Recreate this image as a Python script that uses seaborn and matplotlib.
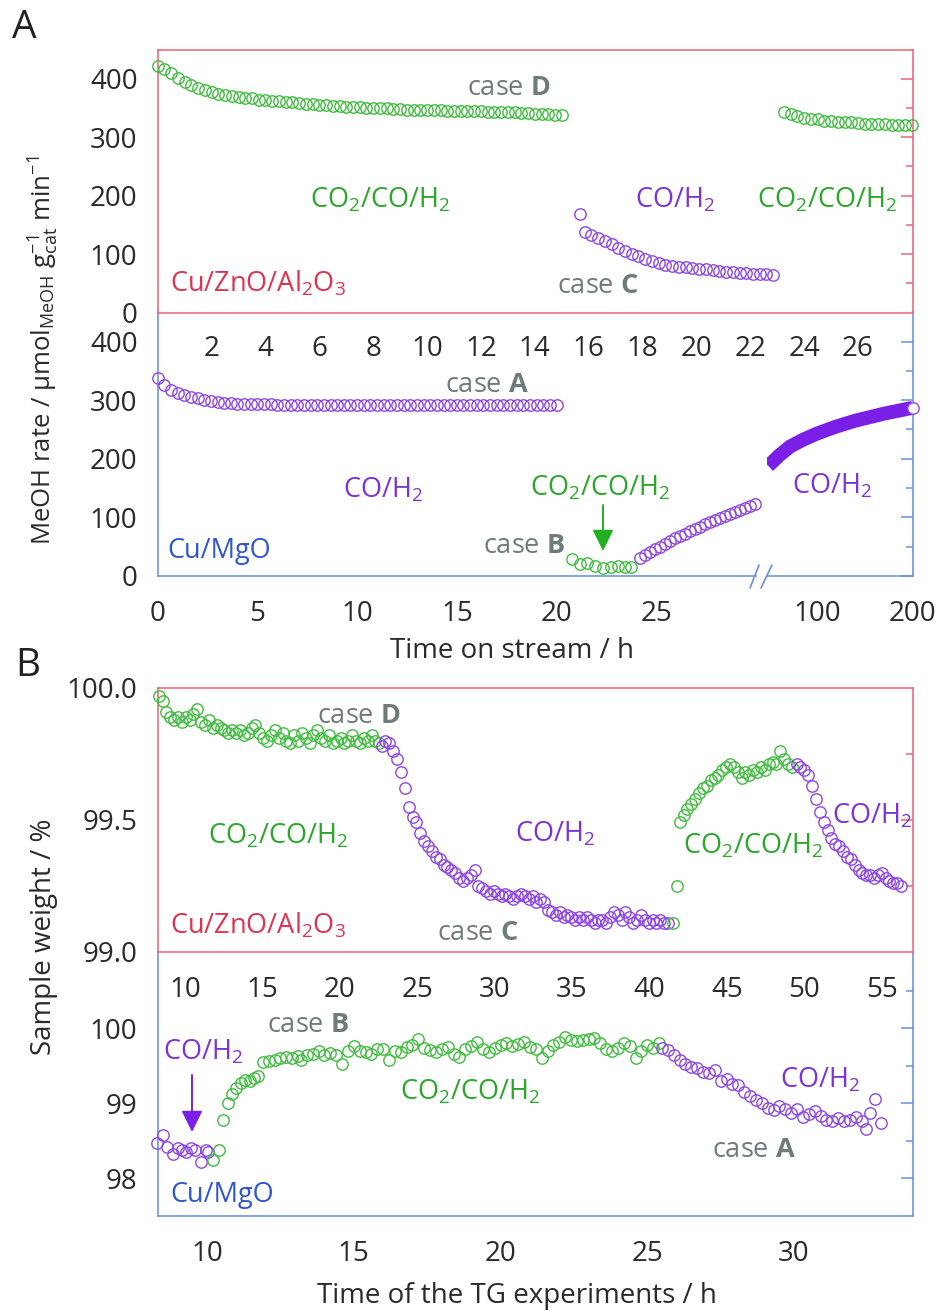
import numpy as np
import matplotlib
matplotlib.use("Agg")
import matplotlib.pyplot as plt
import seaborn as sns
from matplotlib.lines import Line2D
from matplotlib.ticker import FixedLocator, FormatStrFormatter

# ---------------- DATA ----------------
# Panel A, Cu/ZnO/Al2O3 (top): MeOH rate vs time on stream (h)
a_top_green1_t = (0.0, 15.0)
a_top_green1 = [421, 416, 409, 401, 394, 389, 384, 380, 377, 374,
                372, 370, 368, 367, 366, 364, 363, 362, 361, 360,
                359, 358, 357, 356, 355, 354, 353, 353, 352, 351,
                351, 350, 350, 349, 349, 348, 348, 347, 347, 347,
                346, 346, 346, 345, 345, 345, 344, 344, 344, 343,
                343, 343, 342, 342, 341, 341, 340, 340, 339, 338,
                337]
a_top_purple_t = (15.85, 22.85)
a_top_purple_first = (15.68, 169)
a_top_purple = [138, 133, 128, 122, 117, 111, 105, 100, 96, 92,
                88, 85, 82, 80, 78, 77, 76, 75, 74, 72,
                71, 70, 69, 68, 67, 66, 66, 65, 64]
a_top_green2_t = (23.25, 28.0)
a_top_green2 = [343, 339, 336, 333, 331, 330, 328, 327, 326, 325,
                325, 324, 323, 323, 322, 322, 321, 321, 320, 320]

# Panel A, Cu/MgO (bottom)
a_bot_caseA_t = (0.0, 20.0)
a_bot_caseA = [337, 326, 318, 313, 309, 306, 303, 301, 299, 297,
               296, 295, 294, 294, 293, 293, 293, 293, 292, 292,
               292, 292, 292, 292, 291, 291, 291, 291, 291, 291,
               291, 291, 291, 291, 291, 291, 291, 291, 291, 291,
               291, 291, 291, 291, 291, 291, 291, 291, 291, 291,
               291, 291, 292, 292, 292, 292, 292, 292, 292, 292,
               292]
a_bot_caseB_t = [20.75, 21.15, 21.55, 21.95, 22.35, 22.75, 23.1, 23.45, 23.75]
a_bot_caseB = [29, 21, 22, 17, 13, 16, 17, 16, 16]
a_bot_rise_t = (24.2, 29.95)
a_bot_rise = [30, 36, 41, 46, 50, 55, 60, 64, 68, 72, 76, 80,
              84, 88, 92, 95, 99, 102, 106, 109, 113, 116, 119, 122]
a_bot_long_t = [49, 55, 60, 66, 72, 79, 86, 93, 100, 110, 120, 130,
                140, 155, 170, 185, 200]
a_bot_long = [188, 197, 205, 213, 221, 227, 233, 238, 243, 249, 255, 260,
              265, 271, 277, 282, 287]

# Panel B, Cu/ZnO/Al2O3 (top): sample weight (%) vs TG time (h)
b_top_green1_t = (8.3, 22.55)
b_top_green1 = [99.97, 99.95, 99.91, 99.89, 99.88, 99.89, 99.87, 99.89, 99.88, 99.90,
                99.92, 99.87, 99.86, 99.88, 99.85, 99.86, 99.85, 99.84, 99.83, 99.84,
                99.83, 99.84, 99.82, 99.83, 99.85, 99.86, 99.83, 99.81, 99.80, 99.82,
                99.84, 99.81, 99.83, 99.80, 99.79, 99.82, 99.80, 99.83, 99.81, 99.79,
                99.82, 99.84, 99.81, 99.80, 99.82, 99.79, 99.80, 99.81, 99.79, 99.80,
                99.82, 99.80, 99.79, 99.81, 99.80, 99.82, 99.80, 99.79]
b_top_purple1_t = (22.7, 41.2)
b_top_purple1 = [99.78, 99.80, 99.79, 99.76, 99.73, 99.68, 99.62, 99.55, 99.51, 99.49,
                 99.45, 99.42, 99.40, 99.38, 99.36, 99.35, 99.33, 99.32, 99.31, 99.30,
                 99.28, 99.27, 99.28, 99.29, 99.31, 99.25, 99.24, 99.23, 99.22, 99.23,
                 99.22, 99.21, 99.22, 99.21, 99.20, 99.21, 99.22, 99.21, 99.20, 99.21,
                 99.19, 99.20, 99.19, 99.16, 99.15, 99.14, 99.15, 99.13, 99.14, 99.13,
                 99.12, 99.13, 99.12, 99.13, 99.12, 99.11, 99.12, 99.12, 99.11, 99.13,
                 99.15, 99.14, 99.12, 99.15, 99.13, 99.11, 99.12, 99.14, 99.12, 99.11,
                 99.12, 99.11, 99.12, 99.11, 99.11]
b_top_green2_t = [41.5, 41.75, 41.95, 42.2, 42.45, 42.7, 42.95, 43.2, 43.45, 43.7,
                  43.95, 44.2, 44.45, 44.7, 44.95, 45.2, 45.45, 45.7, 45.95, 46.2,
                  46.45, 46.7, 46.95, 47.2, 47.45, 47.7, 47.95, 48.2, 48.45, 48.7,
                  48.95, 49.2]
b_top_green2 = [99.11, 99.25, 99.49, 99.52, 99.54, 99.56, 99.58, 99.60, 99.62, 99.63,
                99.65, 99.66, 99.67, 99.69, 99.70, 99.71, 99.70, 99.68, 99.66, 99.68,
                99.67, 99.69, 99.68, 99.70, 99.69, 99.71, 99.72, 99.71, 99.76, 99.73,
                99.71, 99.70]
b_top_purple2_t = (49.5, 56.25)
b_top_purple2 = [99.71, 99.70, 99.69, 99.67, 99.63, 99.58, 99.53, 99.49, 99.46, 99.43,
                 99.41, 99.40, 99.38, 99.36, 99.35, 99.33, 99.31, 99.30, 99.29, 99.29,
                 99.28, 99.29, 99.30, 99.28, 99.27, 99.26, 99.26, 99.25]

# Panel B, Cu/MgO (bottom)
b_bot_purple1_t = [8.3, 8.5, 8.65, 8.85, 9.0, 9.15, 9.3, 9.45, 9.6, 9.8, 9.95, 10.05]
b_bot_purple1 = [98.47, 98.58, 98.42, 98.33, 98.40, 98.38, 98.35, 98.40, 98.38, 98.22, 98.38, 98.35]
b_bot_green_t = [10.2, 10.4, 10.55, 10.7, 10.85, 11.0, 11.15, 11.3, 11.45, 11.6,
                 11.75, 11.9, 12.1, 12.3, 12.5, 12.7, 12.9, 13.1, 13.2, 13.4,
                 13.6, 13.8, 14.0, 14.2, 14.4, 14.6, 14.8, 15.0, 15.2, 15.4,
                 15.6, 15.8, 16.0, 16.2, 16.4, 16.6, 16.8, 17.0, 17.2, 17.4,
                 17.6, 17.8, 18.0, 18.2, 18.4, 18.6, 18.8, 19.0, 19.2, 19.4,
                 19.6, 19.8, 20.0, 20.2, 20.4, 20.6, 20.8, 21.0, 21.2, 21.4,
                 21.6, 21.8, 22.0, 22.2, 22.4, 22.6, 22.8, 23.0, 23.2, 23.4,
                 23.6, 23.8, 24.0, 24.2, 24.4, 24.6, 24.8, 25.0, 25.2, 25.4]
b_bot_green = [98.24, 98.38, 98.78, 99.00, 99.13, 99.20, 99.27, 99.31, 99.30, 99.34,
               99.36, 99.55, 99.57, 99.58, 99.60, 99.62, 99.61, 99.63, 99.58, 99.64,
               99.66, 99.70, 99.65, 99.67, 99.64, 99.52, 99.70, 99.77, 99.70, 99.68,
               99.66, 99.72, 99.73, 99.58, 99.70, 99.68, 99.75, 99.78, 99.86, 99.74,
               99.71, 99.69, 99.73, 99.75, 99.66, 99.62, 99.72, 99.76, 99.82, 99.72,
               99.69, 99.74, 99.78, 99.80, 99.76, 99.79, 99.82, 99.75, 99.72, 99.60,
               99.70, 99.78, 99.82, 99.88, 99.84, 99.83, 99.84, 99.86, 99.87, 99.80,
               99.72, 99.70, 99.74, 99.80, 99.76, 99.60, 99.70, 99.78, 99.74, 99.80]
b_bot_purple2_t = [25.5, 25.7, 25.9, 26.1, 26.3, 26.5, 26.7, 26.9, 27.1, 27.3,
                   27.5, 27.7, 27.9, 28.1, 28.3, 28.5, 28.7, 28.9, 29.1, 29.3,
                   29.5, 29.7, 29.9, 30.1, 30.3, 30.5, 30.7, 30.9, 31.1, 31.3,
                   31.5, 31.7, 31.9, 32.1, 32.3, 32.45, 32.6, 32.75, 32.95]
b_bot_purple2 = [99.74, 99.71, 99.64, 99.58, 99.53, 99.48, 99.47, 99.42, 99.40, 99.44,
                 99.30, 99.33, 99.26, 99.24, 99.15, 99.10, 99.04, 99.00, 98.94, 98.91,
                 98.96, 98.93, 98.87, 98.92, 98.82, 98.86, 98.90, 98.83, 98.78, 98.76,
                 98.80, 98.77, 98.78, 98.82, 98.76, 98.66, 98.87, 99.06, 98.74]

# tick labels
a_top_xticks = [2, 4, 6, 8, 10, 12, 14, 16, 18, 20, 22, 24, 26]
a_bot_xticks = [0, 5, 10, 15, 20, 25]
a_bot_xticks_long = [100, 200]
b_top_xticks = [10, 15, 20, 25, 30, 35, 40, 45, 50, 55]
b_bot_xticks = [10, 15, 20, 25, 30]
a_yticks = [0, 100, 200, 300, 400]
b_top_yticks = [99.0, 99.5, 100.0]
b_bot_yticks = [98, 99, 100]

# ---------------- STYLE ----------------
sns.set_style("white")
plt.rcParams['font.family'] = ['Open Sans', 'DejaVu Sans']
plt.rcParams['mathtext.fontset'] = 'custom'
plt.rcParams['mathtext.rm'] = 'Open Sans'
plt.rcParams['mathtext.it'] = 'Open Sans:italic'
plt.rcParams['mathtext.bf'] = 'Open Sans:bold'
plt.rcParams['mathtext.default'] = 'regular'

RED = '#e8677c'
BLUE = '#6a8fe2'
GREEN = '#3fbd3f'
PURPLE = '#8f46e2'
PURPLE_D = '#7a1fe6'
T_GREEN = '#2aa82a'
T_PURPLE = '#7d33d6'
T_RED = '#dc3553'
T_BLUE = '#3157cf'
GRAY = '#6f7b7b'
TICKC = '#2a2a2a'
FS = 20
AFS = 19.5

W, H = 941, 1311
fig = plt.figure(figsize=(W / 100, H / 100), dpi=100)
fig.patch.set_facecolor('white')


def rect(l, r, t, b):
    return [l / W, 1 - b / H, (r - l) / W, (b - t) / H]


ax2L = fig.add_axes(rect(157.7, 756, 312.5, 576))
ax2R = fig.add_axes(rect(767, 912.7, 312.5, 576))
ax4 = fig.add_axes(rect(157.7, 912.7, 951.7, 1216))
ax1 = fig.add_axes(rect(157.7, 912.7, 49.5, 312.5))
ax3 = fig.add_axes(rect(157.7, 912.7, 688, 951.7))
for a in (ax1, ax2L, ax2R, ax3, ax4):
    a.set_facecolor('none')


def span(tr, vals):
    return np.linspace(tr[0], tr[1], len(vals))


def dots(ax, x, y, color, face='none', ms=8.2):
    sns.lineplot(x=list(x), y=list(y), ax=ax, color=color, marker='o', linestyle='',
                 markersize=ms, markerfacecolor=face, markeredgecolor=color,
                 markeredgewidth=1.0, estimator=None, sort=False, legend=False,
                 clip_on=False, zorder=5)


def base_spines(ax, color, vis):
    for side in ('left', 'right', 'bottom', 'top'):
        ax.spines[side].set_color(color)
        ax.spines[side].set_linewidth(1.15)
        ax.spines[side].set_visible(side in vis)
    ax.tick_params(which='both', color=color, labelcolor=TICKC, labelsize=FS,
                   width=1.1, direction='out')
    ax.tick_params(which='major', length=8.5)
    ax.tick_params(which='minor', length=4.5)


def right_ticks(ax, color, major, minor):
    sec = ax.secondary_yaxis('right')
    sec.yaxis.set_major_locator(FixedLocator(major))
    sec.yaxis.set_minor_locator(FixedLocator(minor))
    sec.tick_params(which='both', direction='in', labelright=False, color=color, width=1.1)
    sec.tick_params(which='major', length=9)
    sec.tick_params(which='minor', length=5)
    sec.spines['right'].set_color(color)
    sec.spines['right'].set_linewidth(1.15)
    return sec


# ---------------- PANEL A top ----------------
dots(ax1, span(a_top_green1_t, a_top_green1), a_top_green1, GREEN)
dots(ax1, [a_top_purple_first[0]], [a_top_purple_first[1]], PURPLE)
dots(ax1, span(a_top_purple_t, a_top_purple), a_top_purple, PURPLE)
dots(ax1, span(a_top_green2_t, a_top_green2), a_top_green2, GREEN)
ax1.set_xlim(0, 28.03)
ax1.set_ylim(0, 449.6)
base_spines(ax1, RED, ('left', 'bottom', 'top'))
ax1.xaxis.set_major_locator(FixedLocator(a_top_xticks))
ax1.xaxis.set_minor_locator(FixedLocator(list(range(1, 28, 2))))
ax1.yaxis.set_major_locator(FixedLocator(a_yticks))
ax1.yaxis.set_minor_locator(FixedLocator([50, 150, 250, 350]))
ax1.tick_params(axis='x', pad=8)
ax1.tick_params(axis='y', pad=6)
right_ticks(ax1, RED, a_yticks[1:], [50, 150, 250, 350])
ax1.set_xlabel('')
ax1.set_ylabel('')

# ---------------- PANEL A bottom ----------------
dots(ax2L, span(a_bot_caseA_t, a_bot_caseA), a_bot_caseA, PURPLE)
dots(ax2L, a_bot_caseB_t, a_bot_caseB, GREEN)
dots(ax2L, span(a_bot_rise_t, a_bot_rise), a_bot_rise, PURPLE)
ax2L.set_xlim(0, 30.0)
ax2L.set_ylim(0, 449.6)
base_spines(ax2L, BLUE, ('left', 'bottom'))
ax2L.xaxis.set_major_locator(FixedLocator(a_bot_xticks))
ax2L.xaxis.set_minor_locator(FixedLocator([2.5, 7.5, 12.5, 17.5, 22.5, 27.5]))
ax2L.yaxis.set_major_locator(FixedLocator(a_yticks))
ax2L.yaxis.set_minor_locator(FixedLocator([50, 150, 250, 350]))
ax2L.tick_params(axis='x', pad=9)
ax2L.tick_params(axis='y', pad=6)
ax2L.set_xlabel('')
ax2L.set_ylabel('')

sns.lineplot(x=a_bot_long_t, y=a_bot_long, ax=ax2R, color=PURPLE_D, linewidth=10,
             solid_capstyle='butt', estimator=None, sort=False, legend=False)
dots(ax2R, [a_bot_long_t[-1]], [a_bot_long[-1]], PURPLE, face='white')
ax2R.set_xlim(47.75, 200)
ax2R.set_ylim(0, 449.6)
base_spines(ax2R, BLUE, ('bottom',))
ax2R.xaxis.set_major_locator(FixedLocator(a_bot_xticks_long))
ax2R.xaxis.set_minor_locator(FixedLocator([150]))
ax2R.yaxis.set_major_locator(FixedLocator([]))
ax2R.tick_params(axis='x', pad=9)
right_ticks(ax2R, BLUE, a_yticks, [50, 150, 250, 350])
ax2R.set_xlabel('')
ax2R.set_ylabel('')

# ---------------- PANEL B top ----------------
dots(ax3, span(b_top_green1_t, b_top_green1), b_top_green1, GREEN)
dots(ax3, span(b_top_purple1_t, b_top_purple1), b_top_purple1, PURPLE)
dots(ax3, b_top_green2_t, b_top_green2, GREEN)
dots(ax3, span(b_top_purple2_t, b_top_purple2), b_top_purple2, PURPLE)
ax3.set_xlim(8.24, 57.0)
ax3.set_ylim(99.0, 100.0)
base_spines(ax3, RED, ('left', 'bottom', 'top'))
ax3.xaxis.set_major_locator(FixedLocator(b_top_xticks))
ax3.xaxis.set_minor_locator(FixedLocator([12.5, 17.5, 22.5, 27.5, 32.5, 37.5, 42.5, 47.5, 52.5]))
ax3.yaxis.set_major_locator(FixedLocator(b_top_yticks))
ax3.yaxis.set_minor_locator(FixedLocator([99.25, 99.75]))
ax3.yaxis.set_major_formatter(FormatStrFormatter('%.1f'))
ax3.tick_params(axis='x', pad=9)
ax3.tick_params(axis='y', pad=6)
right_ticks(ax3, RED, [99.5], [99.25, 99.75])
ax3.set_xlabel('')
ax3.set_ylabel('')

# ---------------- PANEL B bottom ----------------
dots(ax4, b_bot_purple1_t, b_bot_purple1, PURPLE)
dots(ax4, b_bot_green_t, b_bot_green, GREEN)
dots(ax4, b_bot_purple2_t, b_bot_purple2, PURPLE)
ax4.set_xlim(8.32, 34.04)
ax4.set_ylim(97.5, 101.02)
base_spines(ax4, BLUE, ('left', 'bottom'))
ax4.xaxis.set_major_locator(FixedLocator(b_bot_xticks))
ax4.xaxis.set_minor_locator(FixedLocator([12.5, 17.5, 22.5, 27.5, 32.5]))
ax4.yaxis.set_major_locator(FixedLocator(b_bot_yticks))
ax4.yaxis.set_minor_locator(FixedLocator([98.5, 99.5, 100.5]))
ax4.tick_params(axis='x', pad=9)
ax4.tick_params(axis='y', pad=6)
right_ticks(ax4, BLUE, b_bot_yticks, [98.5, 99.5, 100.5])
ax4.set_xlabel('')
ax4.set_ylabel('')

# ---------------- TEXT ----------------
CO2 = r"CO$_2$/CO/H$_2$"
COH = r"CO/H$_2$"
CZA = r"Cu/ZnO/Al$_2$O$_3$"


def ftext(x, y, s, color, size=AFS, ha='left', va='baseline', **kw):
    fig.text(x / W, 1 - y / H, s, color=color, fontsize=size, ha=ha, va=va, **kw)


ftext(12, 38, 'A', '#222222', size=28)
ftext(15, 676, 'B', '#222222', size=28)

# panel A top
ftext(467, 95, r"case $\mathbf{D}$", GRAY)
ftext(310, 207, CO2, T_GREEN)
ftext(170, 292, CZA, T_RED)
ftext(635, 208, COH, T_PURPLE)
ftext(757, 208, CO2, T_GREEN)
ftext(557, 293, r"case $\mathbf{C}$", GRAY)
# panel A bottom
ftext(445, 392, r"case $\mathbf{A}$", GRAY)
ftext(343, 497, COH, T_PURPLE)
ftext(167, 558, 'Cu/MgO', T_BLUE)
ftext(530, 495, CO2, T_GREEN)
ftext(483, 553, r"case $\mathbf{B}$", GRAY)
ftext(792, 493, COH, T_PURPLE)
# panel B top
ftext(317, 723, r"case $\mathbf{D}$", GRAY)
ftext(208, 843, CO2, T_GREEN)
ftext(170, 933, CZA, T_RED)
ftext(437, 940, r"case $\mathbf{C}$", GRAY)
ftext(515, 842, COH, T_PURPLE)
ftext(683, 853, CO2, T_GREEN)
ftext(832, 823, COH, T_PURPLE)
# panel B bottom
ftext(267, 1032, r"case $\mathbf{B}$", GRAY)
ftext(163, 1060, COH, T_PURPLE)
ftext(170, 1202, 'Cu/MgO', T_BLUE)
ftext(400, 1100, CO2, T_GREEN)
ftext(780, 1087, COH, T_PURPLE)
ftext(712, 1157, r"case $\mathbf{A}$", GRAY)

# axis labels
ftext(390, 658, 'Time on stream / h', TICKC, size=FS)
ftext(317, 1303, 'Time of the TG experiments / h', TICKC, size=FS)
ftext(44, 350, r"MeOH rate / μmol$_{MeOH}$ g$_{cat}^{-1}$ min$^{-1}$", TICKC, size=18.5,
      ha='center', va='center', rotation=90)
ftext(44, 937, 'Sample weight / %', TICKC, size=FS, ha='center', va='center', rotation=90)

# arrows
ax2L.annotate('', xy=(603, H - 551), xytext=(603, H - 505), xycoords='figure pixels',
              textcoords='figure pixels',
              arrowprops=dict(arrowstyle='-|>,head_width=0.32,head_length=0.65',
                              mutation_scale=20, color='#22b022', lw=1.4,
                              shrinkA=0, shrinkB=0))
ax4.annotate('', xy=(192, H - 1132), xytext=(192, H - 1075), xycoords='figure pixels',
             textcoords='figure pixels',
             arrowprops=dict(arrowstyle='-|>,head_width=0.32,head_length=0.65',
                             mutation_scale=20, color='#7a1fe6', lw=1.4,
                             shrinkA=0, shrinkB=0))

# axis break marks
for (x0, y0, x1, y1) in [(750, 588, 759, 565), (761, 588, 772, 565)]:
    fig.add_artist(Line2D([x0 / W, x1 / W], [1 - y0 / H, 1 - y1 / H],
                          transform=fig.transFigure, color=BLUE, lw=1.2))

fig.savefig('out.png', dpi=100, facecolor='white')
